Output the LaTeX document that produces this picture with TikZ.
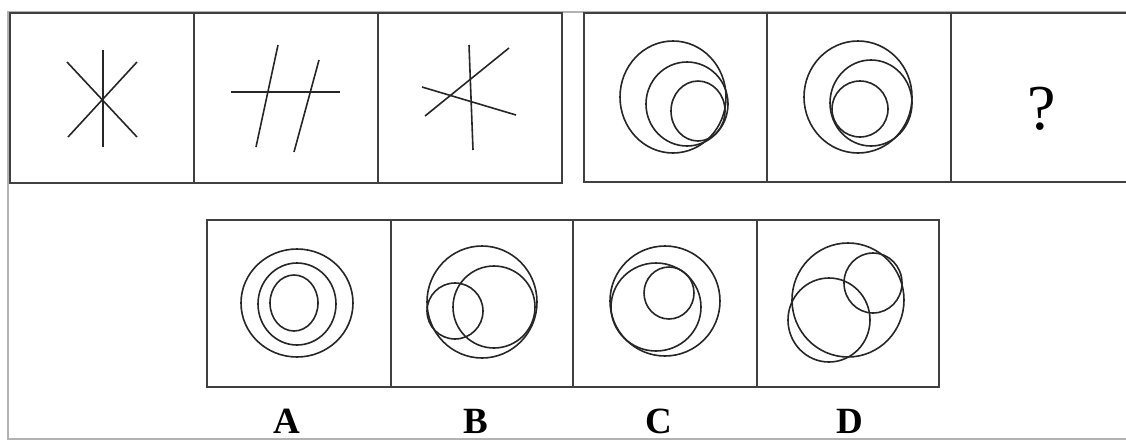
\documentclass[tikz,border=0pt]{standalone}
\usepackage{fontspec}
\setmainfont{Liberation Serif}

\begin{document}
\begin{tikzpicture}[x=1pt, y=-1pt,
  frame/.style={draw=black!75, line width=1.8pt},
  fig/.style={draw=black!85, line width=1.6pt},
  answer/.style={font=\fontsize{37}{37}\selectfont\bfseries, inner sep=0pt}]
\useasboundingbox (0,0) rectangle (1126,442);
\clip (0,0) rectangle (1126,442);
% outer border
\draw[black!30, line width=1.5pt] (1140,12) -- (8,12) -- (8,439) -- (1140,439);

% top row, first set
\draw[frame] (10,13) rectangle (562,183);
\draw[frame] (194,13) -- (194,183) (378,13) -- (378,183);
\draw[fig, line width=2.4pt] (103,50) -- (103,147);
\draw[fig] (67,62) -- (137,137);
\draw[fig] (137,62) -- (68,137);
\draw[fig] (231,92) -- (340,92);
\draw[fig] (278,45) -- (256,147);
\draw[fig] (319,60) -- (294,152);
\draw[fig] (469,45) -- (473,150);
\draw[fig] (509,48) -- (425,116);
\draw[fig] (422,87) -- (516,115);

% top row, second set
\draw[frame] (584,13) rectangle (1140,182);
\draw[frame] (767,13) -- (767,182) (951,13) -- (951,182);
\draw[fig] (673,97) ellipse [x radius=53, y radius=56];
\draw[fig] (687,104) ellipse [x radius=41, y radius=42];
\draw[fig] (698,111) ellipse [x radius=27, y radius=30];
\draw[fig] (858,97) ellipse [x radius=54, y radius=56];
\draw[fig] (871,103) ellipse [x radius=41, y radius=43];
\draw[fig] (860,109) ellipse [x radius=28, y radius=28];
\node[font=\fontsize{64}{64}\selectfont, inner sep=0pt] (q) at (1042,109) {?};

% answers
\draw[frame] (207,220) rectangle (939,387);
\draw[frame] (391,220) -- (391,387) (573,220) -- (573,387) (757,220) -- (757,387);
\draw[fig] (297,303) ellipse [x radius=56, y radius=54];
\draw[fig] (297,304) ellipse [x radius=39, y radius=41];
\draw[fig] (294,303) ellipse [x radius=24, y radius=28];
\draw[fig] (482,302) ellipse [x radius=55, y radius=56];
\draw[fig] (494,307) ellipse [x radius=41, y radius=41];
\draw[fig] (455,311) ellipse [x radius=28, y radius=28];
\draw[fig] (665,301) ellipse [x radius=55, y radius=55];
\draw[fig] (656,307) ellipse [x radius=45, y radius=44];
\draw[fig] (669,293) ellipse [x radius=25, y radius=26];
\draw[fig] (848,300) ellipse [x radius=56, y radius=57];
\draw[fig] (829,320) ellipse [x radius=41, y radius=42];
\draw[fig] (873,283) ellipse [x radius=29, y radius=30];

\node[answer] (la) at (287,421) {A};
\node[answer] (lb) at (476,421) {B};
\node[answer] (lc) at (659,421) {C};
\node[answer] (ld) at (850,421) {D};
\end{tikzpicture}
\end{document}
